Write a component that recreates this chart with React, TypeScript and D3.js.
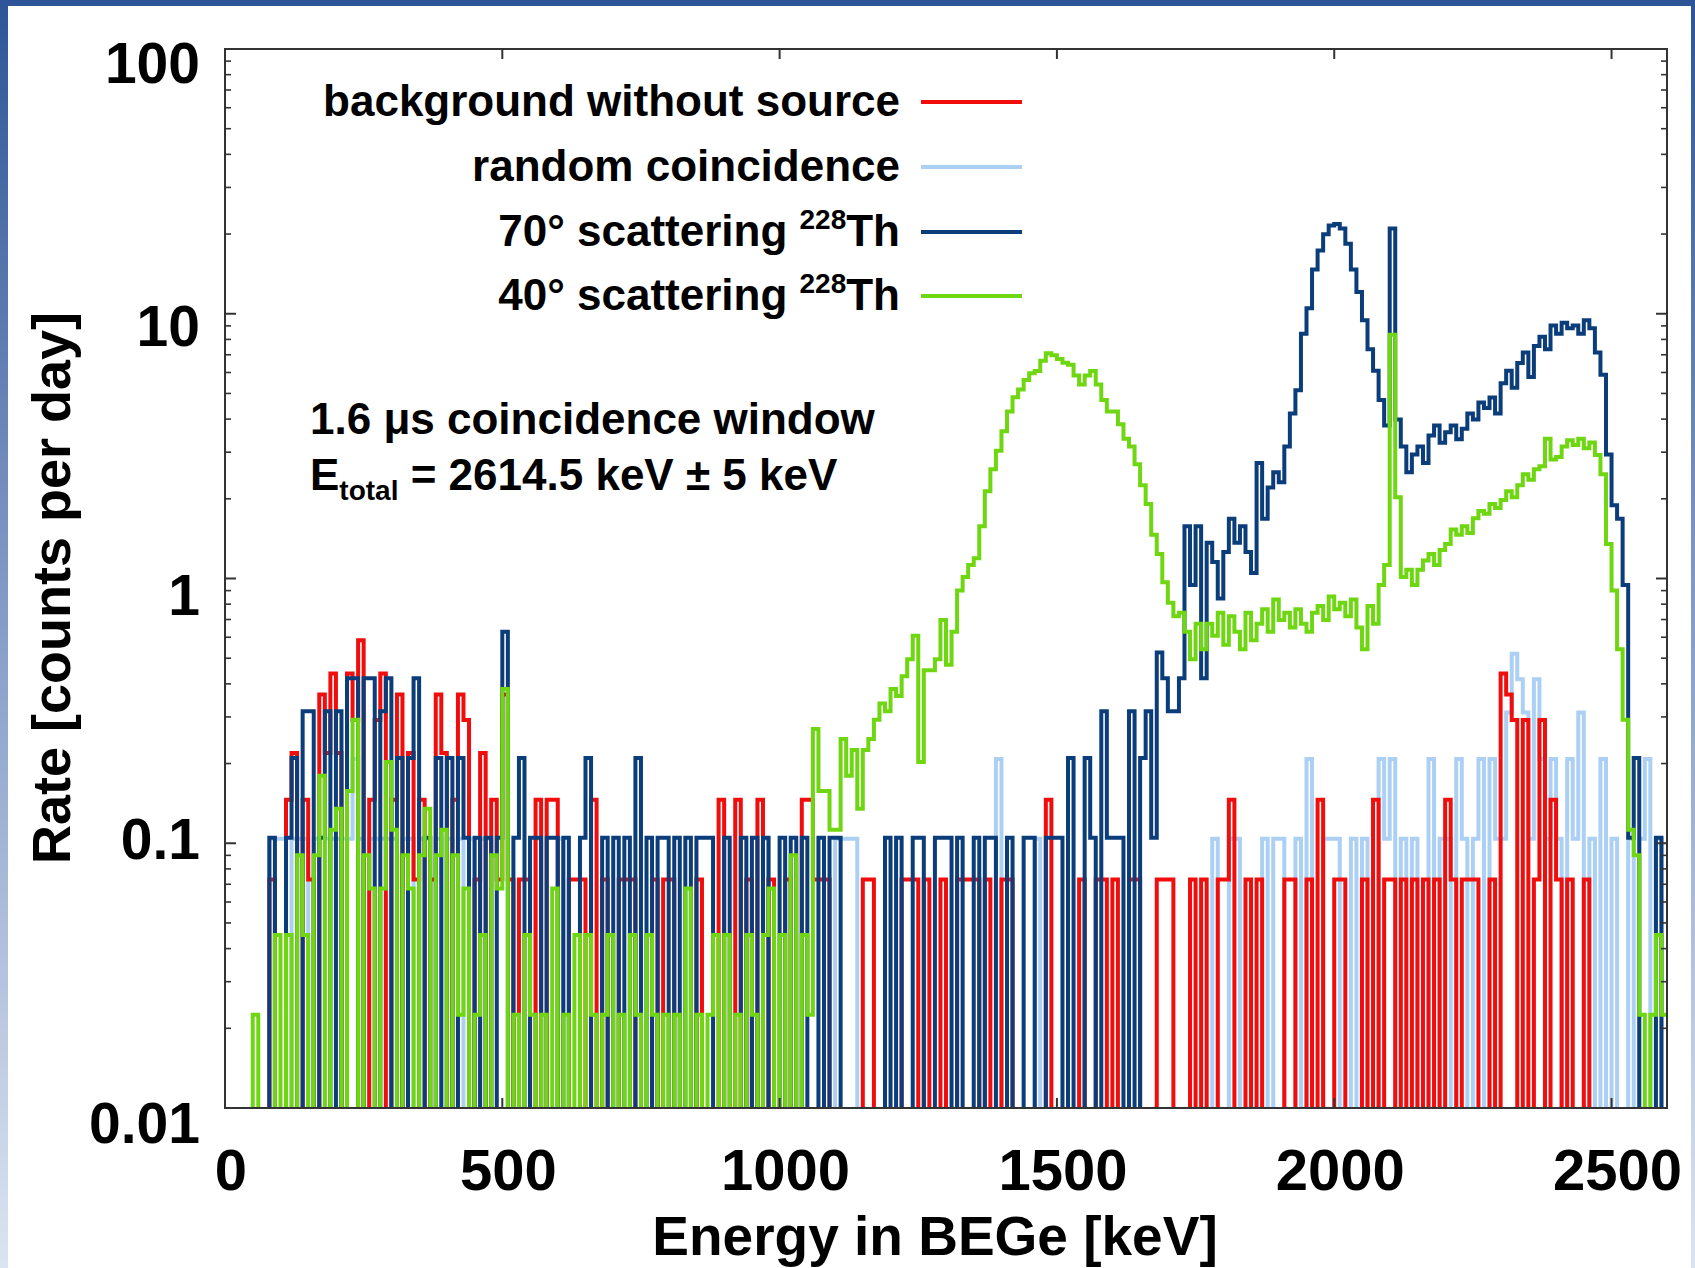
import React from 'react';
import * as d3 from 'd3';

// ---------------- data ----------------
const BIN_WIDTH = 10; // keV per histogram bin
const X_DOMAIN: [number, number] = [0, 2600];
const Y_DOMAIN: [number, number] = [0.01, 100];
const X_TICKS = [0, 500, 1000, 1500, 2000, 2500];
const Y_MAJOR_TICKS = [100, 10, 1, 0.1, 0.01];
const Y_TICK_LABELS = ['100', '10', '1', '0.1', '0.01'];

// rate per single count for each measurement (counts per day)
const UNIT_BACKGROUND = 0.073;
const UNIT_RANDOM = 0.104;
const UNIT_70DEG = 0.105;
const UNIT_40DEG = 0.0225;

// counts per 10 keV bin, 0 .. 2600 keV (one row = 100 keV)
const countsBackground = [
  0,0,0,0,0,0,0,0,1,0,
  0,2,3,0,2,1,0,5,3,6,
  3,0,6,4,8,0,2,4,6,0,
  2,5,0,3,1,2,0,1,5,3,
  0,2,5,4,0,1,3,0,2,1,
  5,1,0,1,1,0,2,0,2,2,
  0,0,1,1,1,0,2,0,1,0,
  0,1,1,1,0,0,0,1,0,1,
  1,0,0,0,0,1,0,0,0,2,
  0,0,2,0,1,0,2,0,1,0,
  0,1,0,0,2,2,1,1,1,0,
  0,0,0,0,0,1,1,0,0,0,
  0,0,1,1,1,0,1,0,0,1,
  0,0,1,1,1,1,0,1,0,0,
  1,1,0,0,0,0,0,0,2,0,
  0,0,0,0,1,0,0,1,1,0,
  1,0,0,1,1,0,0,0,1,1,
  1,0,0,0,1,0,1,0,0,1,
  1,2,0,0,1,0,1,0,0,0,
  0,1,1,0,0,1,0,2,0,0,
  1,1,0,0,0,1,0,2,0,1,
  1,0,1,0,1,0,1,0,1,0,
  2,1,0,1,1,1,0,0,1,0,
  6,5,4,0,4,0,1,4,0,2,
  1,0,1,0,0,1,0,0,0,0,
  0,0,0,0,0,0,0,0,0,0,
];

const countsRandom = [
  0,0,0,0,0,0,0,0,1,1,
  1,0,1,1,1,0,1,0,1,1,
  1,1,1,2,1,0,1,1,1,1,
  1,0,1,1,0,1,1,0,1,0,
  1,0,1,0,1,0,1,1,0,0,
  0,0,0,0,0,0,1,0,0,0,
  1,0,0,0,0,0,0,0,0,0,
  0,0,0,0,0,0,0,0,0,0,
  0,0,0,0,0,0,0,0,0,0,
  0,0,0,0,0,0,0,1,0,0,
  0,0,0,0,0,0,0,0,0,0,
  1,1,1,1,0,0,0,0,0,0,
  0,0,0,0,0,0,0,0,0,0,
  0,0,0,0,0,0,0,0,0,2,
  0,0,0,0,0,0,1,0,0,0,
  0,0,0,0,0,0,0,0,0,0,
  0,0,0,0,0,0,0,0,0,0,
  0,0,0,0,0,0,0,0,1,0,
  0,1,1,0,0,0,0,1,0,1,
  1,0,0,1,0,2,0,0,1,1,
  1,0,0,1,0,1,0,0,2,1,
  2,0,1,0,1,0,0,2,0,1,
  1,0,2,1,0,1,2,0,2,1,
  1,3,5,4,3,1,4,2,1,2,
  1,0,2,1,3,0,1,0,2,0,
  1,0,0,1,0,1,2,0,1,0,
];

const counts70deg = [
  0,0,0,0,0,0,0,0,1,0,
  0,1,2,0,3,3,0,1,3,0,
  3,0,4,4,0,4,4,0,3,4,
  0,2,0,2,4,0,1,0,2,0,
  2,0,2,1,0,1,0,1,0,1,
  6,0,1,2,0,1,1,0,1,1,
  0,1,0,0,1,2,0,0,1,0,
  1,0,1,0,2,0,1,0,1,1,
  0,1,0,1,0,1,1,1,0,0,
  1,0,0,1,0,1,0,1,0,0,
  1,0,1,0,1,0,0,1,0,1,
  1,0,0,0,0,0,0,0,0,1,
  0,1,0,0,1,1,0,0,1,1,
  1,0,1,0,0,1,0,1,1,0,
  0,1,0,0,1,1,0,0,1,1,
  1,0,2,0,0,2,1,0,3,1,
  1,1,0,3,0,2,3,1,5,4,
  3,3,4,15,9,15,4,13,11,8,
  12,16,13,15,12,10,26,16,21,24,
  22,30,40,49,80,100,140,165,190,205,
  208,200,175,140,115,90,70,58,45,36,
  200,38,30,24,28,30,26,33,36,31,
  34,36,32,35,40,38,44,42,46,40,
  52,58,50,62,68,55,72,78,70,86,
  80,88,84,86,80,90,84,68,56,28,
  18,16,9,1,2,0,0,0,1,0,
];

const counts40deg = [
  0,0,0,0,0,1,0,0,0,2,
  0,2,0,4,2,0,4,8,0,5,
  6,0,7,13,0,4,3,0,3,9,
  5,0,4,3,0,4,6,0,4,5,
  0,4,1,3,0,1,2,0,4,3,
  17,0,1,0,2,1,0,1,0,3,
  0,1,0,2,0,2,1,0,1,2,
  0,1,0,2,1,0,2,1,0,1,
  0,1,0,3,0,1,0,1,2,0,
  2,0,1,0,2,1,0,2,3,0,
  2,0,4,0,2,1,12,7,7,5,
  5,11,8,10,6,10,11,13,15,14,
  17,16,19,22,27,9,20,20,22,31,
  21,28,40,45,50,53,70,95,115,135,
  160,190,215,230,250,265,270,295,315,310,
  300,290,285,260,240,260,270,240,210,190,
  190,170,150,140,120,100,85,65,55,43,
  36,32,33,28,22,30,24,30,27,33,
  25,32,28,24,33,26,30,34,28,37,
  31,33,29,34,30,28,33,35,31,38,
  34,36,32,37,29,24,35,30,42,50,
  370,90,45,48,42,48,52,55,50,57,
  60,68,65,70,66,75,80,78,85,82,
  88,95,90,100,110,105,115,118,150,125,
  128,140,148,142,150,138,145,130,110,60,
  40,24,13,5,4,1,0,1,2,1,
];

const SERIES_NAMES = [
  'background without source',
  'random coincidence',
  '70° scattering',
  '40° scattering',
];
const SERIES_SUPERSCRIPT = ['', '', '228', '228'];
const SERIES_SUFFIX = ['', '', 'Th', 'Th'];

const ANNOTATION_LINE1 = '1.6 \u03bcs coincidence window';
const ANNOTATION_E = 'E';
const ANNOTATION_SUB = 'total';
const ANNOTATION_REST = ' = 2614.5 keV \u00b1 5 keV';
const X_TITLE = 'Energy in BEGe [keV]';
const Y_TITLE = 'Rate [counts per day]';

// ---------------- styling ----------------
const W = 1695;
const H = 1268;
const PLOT = { left: 225, top: 49, right: 1667, bottom: 1108 };
const COLORS = ['#f20d0d', '#acd0f4', '#0b3d7b', '#6fd612'];
const FONT = '"Liberation Sans", Arial, Helvetica, sans-serif';
const Y_LABEL_DY = [34, 32, 36, 16, 35];

export default function App() {
  const x = d3.scaleLinear().domain(X_DOMAIN).range([PLOT.left, PLOT.right]);
  const y = d3.scaleLog().domain(Y_DOMAIN).range([PLOT.bottom, PLOT.top]);

  const seriesData = [
    { counts: countsBackground, unit: UNIT_BACKGROUND },
    { counts: countsRandom, unit: UNIT_RANDOM },
    { counts: counts70deg, unit: UNIT_70DEG },
    { counts: counts40deg, unit: UNIT_40DEG },
  ];

  const line = d3.line<[number, number]>();
  const stepPath = (counts: number[], unit: number) => {
    const pts: [number, number][] = [];
    counts.forEach((c, i) => {
      const yy = c > 0 ? y(c * unit) : PLOT.bottom + 30;
      pts.push([x(i * BIN_WIDTH), yy], [x((i + 1) * BIN_WIDTH), yy]);
    });
    return line(pts) || '';
  };

  // drawing order: random, background, 70deg, 40deg
  const drawOrder = [1, 0, 2, 3];

  const allLogTicks = y.ticks();
  const minorTicks = allLogTicks.filter(
    (v) => !Y_MAJOR_TICKS.some((m) => Math.abs(m - v) / m < 1e-6)
  );

  const legendY = [102, 167, 232, 296];
  const legendTextX = 900;

  return (
    <svg
      width={W}
      height={H}
      viewBox={`0 0 ${W} ${H}`}
      style={{ position: 'absolute', left: 0, top: 0, background: '#fff' }}
    >
      <defs>
        <linearGradient id="sideGrad" x1="0" y1="0" x2="0" y2="1">
          <stop offset="0" stopColor="#2d5597" />
          <stop offset="0.45" stopColor="#7f97c4" />
          <stop offset="1" stopColor="#dbe4f1" />
        </linearGradient>
        <clipPath id="plotClip">
          <rect
            x={PLOT.left}
            y={PLOT.top}
            width={PLOT.right - PLOT.left}
            height={PLOT.bottom - PLOT.top}
          />
        </clipPath>
      </defs>

      {/* slide frame */}
      <rect x={0} y={0} width={W} height={H} fill="#ffffff" />
      <rect x={0} y={0} width={8} height={H} fill="url(#sideGrad)" />
      <rect x={1691} y={0} width={4} height={H} fill="url(#sideGrad)" />
      <rect x={0} y={0} width={W} height={6} fill="#2d5597" />

      {/* histograms */}
      <g clipPath="url(#plotClip)">
        {drawOrder.map((si) => (
          <path
            key={si}
            d={stepPath(seriesData[si].counts, seriesData[si].unit)}
            fill="none"
            stroke={COLORS[si]}
            strokeWidth={4}
            strokeLinejoin="miter"
          />
        ))}
      </g>

      {/* frame */}
      <rect
        x={PLOT.left}
        y={PLOT.top}
        width={PLOT.right - PLOT.left}
        height={PLOT.bottom - PLOT.top}
        fill="none"
        stroke="#333"
        strokeWidth={2}
      />

      {/* y ticks */}
      {Y_MAJOR_TICKS.map((v) => (
        <g key={'ym' + v}>
          <line x1={PLOT.left} x2={PLOT.left + 11} y1={y(v)} y2={y(v)} stroke="#333" strokeWidth={2} />
          <line x1={PLOT.right} x2={PLOT.right - 11} y1={y(v)} y2={y(v)} stroke="#333" strokeWidth={2} />
        </g>
      ))}
      {minorTicks.map((v) => (
        <g key={'yn' + v}>
          <line x1={PLOT.left} x2={PLOT.left + 6} y1={y(v)} y2={y(v)} stroke="#333" strokeWidth={1.6} />
          <line x1={PLOT.right} x2={PLOT.right - 6} y1={y(v)} y2={y(v)} stroke="#333" strokeWidth={1.6} />
        </g>
      ))}
      {/* x ticks */}
      {X_TICKS.map((v) => (
        <g key={'xt' + v}>
          <line x1={x(v)} x2={x(v)} y1={PLOT.top} y2={PLOT.top + 10} stroke="#333" strokeWidth={2} />
          <line x1={x(v)} x2={x(v)} y1={PLOT.bottom} y2={PLOT.bottom - 10} stroke="#333" strokeWidth={2} />
        </g>
      ))}

      {/* tick labels */}
      <g fontFamily={FONT} fontWeight="bold" fill="#000">
        {Y_MAJOR_TICKS.map((v, i) => (
          <text key={'yl' + v} x={200} y={y(v) + Y_LABEL_DY[i]} fontSize={57} textAnchor="end">
            {Y_TICK_LABELS[i]}
          </text>
        ))}
        {X_TICKS.map((v) => (
          <text key={'xl' + v} x={x(v) + 6} y={1190} fontSize={58} textAnchor="middle">
            {String(v)}
          </text>
        ))}
        <text x={935} y={1255} fontSize={55} textAnchor="middle">
          {X_TITLE}
        </text>
        <text
          transform={`translate(70, 588) rotate(-90)`}
          fontSize={54}
          textAnchor="middle"
        >
          {Y_TITLE}
        </text>
      </g>

      {/* legend */}
      <g fontFamily={FONT} fontWeight="bold" fill="#000">
        {SERIES_NAMES.map((name, i) => (
          <g key={'lg' + i}>
            <text x={legendTextX} y={legendY[i] + 14} fontSize={44} textAnchor="end">
              {SERIES_SUPERSCRIPT[i] ? name + ' ' : name}
              {SERIES_SUPERSCRIPT[i] ? (
                <tspan fontSize={28} dy={-17}>
                  {SERIES_SUPERSCRIPT[i]}
                </tspan>
              ) : null}
              {SERIES_SUFFIX[i] ? (
                <tspan fontSize={44} dy={17}>
                  {SERIES_SUFFIX[i]}
                </tspan>
              ) : null}
            </text>
            <line
              x1={921}
              x2={1022}
              y1={legendY[i]}
              y2={legendY[i]}
              stroke={COLORS[i]}
              strokeWidth={4}
            />
          </g>
        ))}
      </g>

      {/* annotation */}
      <g fontFamily={FONT} fontWeight="bold" fill="#000">
        <text x={310} y={434} fontSize={44}>
          {ANNOTATION_LINE1}
        </text>
        <text x={310} y={490} fontSize={44}>
          {ANNOTATION_E}
          <tspan fontSize={28} dy={10}>
            {ANNOTATION_SUB}
          </tspan>
          <tspan dy={-10}>{ANNOTATION_REST}</tspan>
        </text>
      </g>
    </svg>
  );
}
